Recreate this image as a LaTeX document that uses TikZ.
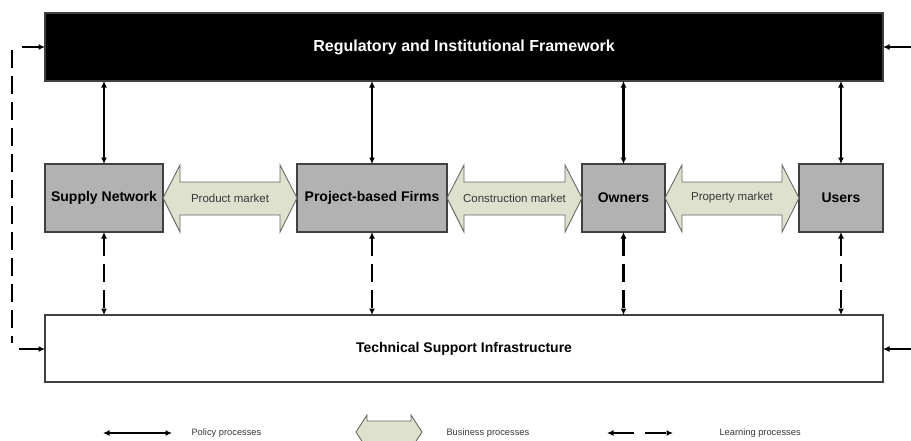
\documentclass[tikz,border=0pt]{standalone}
\usepackage{fontspec}
\setmainfont{Liberation Sans}
\usetikzlibrary{arrows.meta}
\definecolor{boxgray}{RGB}{178,178,178}
\definecolor{edgegray}{RGB}{64,64,64}
\definecolor{mktfill}{RGB}{222,225,206}
\definecolor{mktedge}{RGB}{105,105,105}
\definecolor{mkttext}{RGB}{55,55,55}
\newcommand\mktarrow[4]{%
  \draw[mkt] (#1,198) -- (#1+17,165) -- (#1+17,182) -- (#2-17,182) -- (#2-17,165)
    -- (#2,198) -- (#2-17,232) -- (#2-17,215) -- (#1+17,215) -- (#1+17,232) -- cycle;
  \node[mktlabel] (#4) at ({(#1+#2)/2},198) {#3};}
\begin{document}
\begin{tikzpicture}[x=1pt,y=-1pt,
  band/.style={draw=edgegray, line width=1.2pt, inner sep=0pt, outer sep=0pt,
    anchor=north west, minimum width=838pt},
  actor/.style={draw=edgegray, line width=1.2pt, fill=boxgray, inner sep=0pt, outer sep=0pt,
    anchor=north west, minimum height=68pt, font=\fontsize{14}{16}\selectfont\bfseries},
  ptip/.tip={Latex[length=6.5pt,width=6pt]},
  policy/.style={line width=2.4pt, ptip-ptip},
  learning/.style={line width=2.4pt, ptip-ptip, dash pattern=on 18pt off 8pt},
  feed/.style={line width=2.4pt, -ptip},
  mkt/.style={draw=mktedge, line width=0.9pt, fill=mktfill},
  mktlabel/.style={font=\fontsize{11.5}{13}\selectfont, text=mkttext},
  legendtext/.style={font=\fontsize{9.3}{11}\selectfont, text=mkttext, anchor=west}
]
\clip (0,0) rectangle (911,440);
\fill[white] (0,0) rectangle (911,440);

% bands
\node[band, fill=black, minimum height=68pt, text=white,
  font=\fontsize{16}{19}\selectfont\bfseries] (reg) at (45,13) {Regulatory and Institutional Framework};
\node[band, fill=white, minimum height=67pt,
  font=\fontsize{14}{16}\selectfont\bfseries] (tsi) at (45,315) {Technical Support Infrastructure};

% actors
\node[actor, minimum width=118pt] (sn) at (45,164) {Supply Network};
\node[actor, minimum width=150pt] (pf) at (297,164) {Project-based Firms};
\node[actor, minimum width=83pt] (ow) at (582,164) {Owners};
\node[actor, minimum width=84pt] (us) at (799,164) {Users};

% markets
\mktarrow{163}{297}{Product market}{pm}
\mktarrow{447}{582}{Construction market}{cm}
\mktarrow{665}{799}{Property market}{prm}

% policy and learning processes
\foreach \n in {sn,pf,ow,us}{
  \draw[policy] (reg.south -| \n.north) -- (\n.north);
  \draw[learning] (\n.south) -- (tsi.north -| \n.south);
}

% feedback
\coordinate (fbtop) at (12,50);
\coordinate (fbbot) at (12,343);
\draw[line width=2.4pt, dash pattern=on 18pt off 8pt] (fbtop) -- (fbbot);
\coordinate (inLT) at (22,47);
\coordinate (inLB) at (19,349);
\coordinate (inRT) at (911,47);
\coordinate (inRB) at (911,349);
\draw[feed] (inLT) -- (inLT -| reg.west);
\draw[feed] (inLB) -- (inLB -| tsi.west);
\draw[feed] (inRT) -- (inRT -| reg.east);
\draw[feed] (inRB) -- (inRB -| tsi.east);

% legend
\coordinate (lpa) at (103,433);
\coordinate (lpb) at (172,433);
\draw[policy] (lpa) -- (lpb);
\node[legendtext] (lpt) at (188,433) {Policy processes};
\draw[mkt] (356,432) -- (367,415) -- (367,421) -- (411,421) -- (411,415) -- (422,432)
  -- (411,449) -- (411,443) -- (367,443) -- (367,449) -- cycle;
\node[legendtext] (lbt) at (443,433) {Business processes};
\coordinate (lla) at (607,433);
\coordinate (llb) at (673,433);
\draw[line width=2.4pt, ptip-ptip, dash pattern=on 21pt off 11pt] (lla) -- (llb);
\node[legendtext] (llt) at (716,433) {Learning processes};
\end{tikzpicture}
\end{document}
